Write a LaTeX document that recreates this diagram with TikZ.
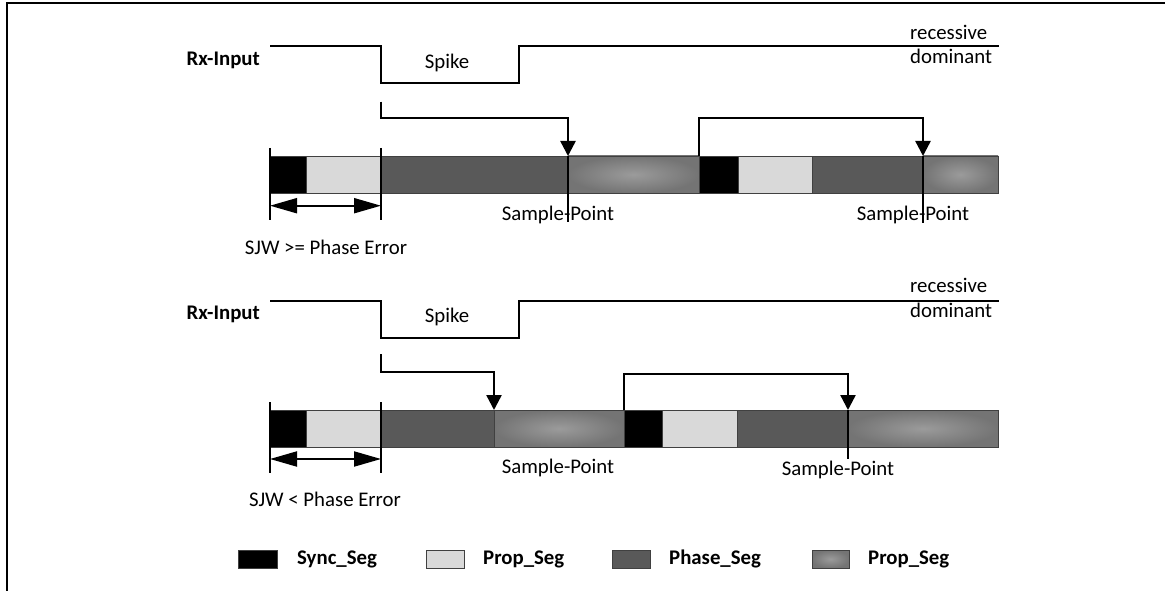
\documentclass[tikz,border=0pt]{standalone}
\usepackage{fontspec}
\setmainfont{Carlito}
\usepackage{tikz}
\usetikzlibrary{arrows.meta,positioning}
\definecolor{segblack}{RGB}{0,0,0}
\definecolor{seglight}{RGB}{217,217,217}
\definecolor{segdark}{RGB}{89,89,89}
\definecolor{segedge}{RGB}{116,116,116}
\definecolor{segmid}{RGB}{155,155,155}
\newcommand{\samplept}{Sample-Point}

\begin{document}
\begin{tikzpicture}[x=1pt,y=-1pt,>={Triangle[length=15pt,width=15pt]},font=\fontsize{20.8}{25}\selectfont]
\tikzstyle{seg}=[draw=black!75,line width=0.8pt,minimum height=37pt,inner sep=0pt,outer sep=0pt]
\tikzstyle{grad}=[seg,inner color=segmid,outer color=segedge]
\tikzstyle{key}=[seg,minimum width=38pt,minimum height=18pt]
\tikzstyle{lbl}=[inner sep=0pt]
\tikzstyle{wave}=[line width=2pt]
\tikzstyle{sp}=[line width=2.4pt,->]
\tikzstyle{tickline}=[line width=1.2pt]
\tikzstyle{sjw}=[line width=2pt,{Triangle[length=27pt,width=15pt]}-{Triangle[length=27pt,width=15pt]}]
\useasboundingbox (0,0) rectangle (1165,591);
\draw[line width=2.6pt] (1165,3) -- (7,3) -- (7,591);
% first case: SJW >= phase error
\node[lbl,anchor=east] (rx1) at (260,60) {\textbf{Rx-Input}};
\draw[wave] (270,45.7) -- (381,45.7) -- (381,83.3) -- (519,83.3) -- (519,45.7) -- (999,45.7);
\node[lbl] (spike1) at (447,63) {Spike};
\node[lbl,anchor=west] (rec1) at (910,32) {recessive};
\node[lbl,anchor=west] (dom1) at (910,56) {dominant};
\node[seg,fill=segblack,minimum width=36pt,anchor=north west] (a1) at (270,156) {};
\node[seg,fill=seglight,minimum width=75pt,right=0pt of a1] (a2) {};
\node[seg,fill=segdark,minimum width=187pt,right=0pt of a2] (a3) {};
\node[grad,minimum width=131pt,right=0pt of a3] (a4) {};
\node[seg,fill=segblack,minimum width=39pt,right=0pt of a4] (a5) {};
\node[seg,fill=seglight,minimum width=74pt,right=0pt of a5] (a6) {};
\node[seg,fill=segdark,minimum width=111pt,right=0pt of a6] (a7) {};
\node[grad,minimum width=75pt,right=0pt of a7] (a8) {};
\coordinate (e1) at (381,101.7);
\draw[sp] (e1) -- ++(0,16.6) -| (a4.north west);
\draw[sp] (a5.north west) -- ++(0,-38) -| (a8.north west);
\draw[tickline] (a4.north west) -- ++(0,66);
\draw[tickline] (a8.north west) -- ++(0,67);
\node[lbl] (sp1) at (558,215) {\samplept};
\node[lbl] (sp2) at (913,215) {\samplept};
\draw[tickline] (a1.north west) ++(0,-8) -- ++(0,72);
\draw[tickline] (a2.north east) ++(0,-8) -- ++(0,72);
\coordinate (j1) at (270,205.7);
\coordinate (j2) at (381,205.7);
\draw[sjw] (j1) -- (j2);
\node[lbl] (sjw1) at (326,247) {SJW >= Phase Error};
% second case: SJW < phase error
\node[lbl,anchor=east] (rx2) at (260,314) {\textbf{Rx-Input}};
\draw[wave] (270,301) -- (381,301) -- (381,338.3) -- (519,338.3) -- (519,301) -- (999,301);
\node[lbl] (spike2) at (447,317) {Spike};
\node[lbl,anchor=west] (rec2) at (910,285) {recessive};
\node[lbl,anchor=west] (dom2) at (910,310) {dominant};
\node[seg,fill=segblack,minimum width=36pt,anchor=north west] (b1) at (270,410) {};
\node[seg,fill=seglight,minimum width=75pt,right=0pt of b1] (b2) {};
\node[seg,fill=segdark,minimum width=113pt,right=0pt of b2] (b3) {};
\node[grad,minimum width=130pt,right=0pt of b3] (b4) {};
\node[seg,fill=segblack,minimum width=38pt,right=0pt of b4] (b5) {};
\node[seg,fill=seglight,minimum width=75pt,right=0pt of b5] (b6) {};
\node[seg,fill=segdark,minimum width=111pt,right=0pt of b6] (b7) {};
\node[grad,minimum width=150pt,right=0pt of b7] (b8) {};
\coordinate (e2) at (381,354);
\draw[sp] (e2) -- ++(0,17.7) -| (b4.north west);
\draw[sp] (b5.north west) -- ++(0,-36) -| (b8.north west);
\draw[tickline] (b8.north west) -- ++(0,49);
\node[lbl] (sp3) at (558,468) {\samplept};
\node[lbl] (sp4) at (838,470) {\samplept};
\draw[tickline] (b1.north west) ++(0,-8) -- ++(0,71);
\draw[tickline] (b2.north east) ++(0,-8) -- ++(0,71);
\coordinate (j3) at (270,459);
\coordinate (j4) at (381,459);
\draw[sjw] (j3) -- (j4);
\node[lbl] (sjw2) at (325,499) {SJW < Phase Error};
% legend
\node[key,fill=segblack,minimum width=39pt,anchor=west] (lsync) at (238,559) {};
\node[lbl,right=20pt of lsync] (tsync) {\textbf{Sync\_Seg}};
\node[key,fill=seglight,anchor=west] (lprop) at (426,559) {};
\node[lbl,right=19pt of lprop] (tprop) {\textbf{Prop\_Seg}};
\node[key,fill=segdark,anchor=west] (lphase) at (612,559) {};
\node[lbl,right=19pt of lphase] (tphase) {\textbf{Phase\_Seg}};
\node[key,grad,minimum height=18pt,minimum width=37pt,anchor=west] (lgrad) at (812,559) {};
\node[lbl,right=19pt of lgrad] (tgrad) {\textbf{Prop\_Seg}};
\end{tikzpicture}
\end{document}
